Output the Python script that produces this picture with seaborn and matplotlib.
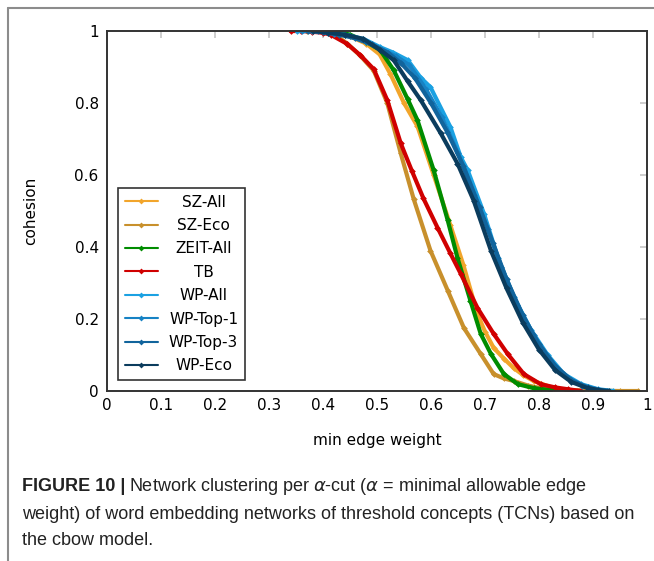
import pandas as pd
import seaborn as sns
import matplotlib.pyplot as plt
from matplotlib.lines import Line2D

# Werte (min edge weight -> cohesion)
sz_all_x = [0.40, 0.423, 0.45, 0.48, 0.505, 0.525, 0.55, 0.575, 0.605, 0.636, 0.66, 0.686, 0.70, 0.716, 0.735, 0.753, 0.77, 0.79, 0.827, 0.87]
sz_all_y = [1.0, 1.0, 0.985, 0.965, 0.935, 0.88, 0.80, 0.735, 0.60, 0.46, 0.35, 0.214, 0.165, 0.12, 0.09, 0.064, 0.045, 0.028, 0.008, 0.0]

sz_eco_x = [0.37, 0.40, 0.42, 0.445, 0.47, 0.494, 0.519, 0.544, 0.568, 0.599, 0.631, 0.661, 0.692, 0.716, 0.735, 0.753, 0.78, 0.803, 0.85, 0.90, 0.95, 0.983]
sz_eco_y = [1.0, 0.998, 0.992, 0.965, 0.93, 0.89, 0.80, 0.66, 0.533, 0.39, 0.279, 0.175, 0.103, 0.047, 0.035, 0.028, 0.015, 0.008, 0.003, 0.001, 0.0, 0.0]

zeit_all_x = [0.42, 0.45, 0.48, 0.506, 0.531, 0.557, 0.575, 0.605, 0.631, 0.649, 0.673, 0.692, 0.711, 0.735, 0.761, 0.79, 0.82, 0.86]
zeit_all_y = [1.0, 0.99, 0.97, 0.947, 0.891, 0.81, 0.752, 0.613, 0.474, 0.37, 0.251, 0.159, 0.103, 0.047, 0.019, 0.008, 0.003, 0.0]

tb_x = [0.34, 0.36, 0.38, 0.40, 0.414, 0.445, 0.469, 0.494, 0.519, 0.544, 0.565, 0.586, 0.612, 0.636, 0.655, 0.686, 0.716, 0.742, 0.772, 0.803, 0.83, 0.853, 0.878]
tb_y = [1.0, 1.0, 0.998, 0.995, 0.99, 0.964, 0.933, 0.894, 0.808, 0.688, 0.61, 0.535, 0.454, 0.382, 0.326, 0.231, 0.159, 0.103, 0.047, 0.019, 0.01, 0.005, 0.0]

wp_all_x = [0.352, 0.38, 0.41, 0.44, 0.475, 0.506, 0.53, 0.557, 0.581, 0.599, 0.636, 0.655, 0.668, 0.698, 0.724, 0.753, 0.785, 0.816, 0.846, 0.878, 0.909, 0.937]
wp_all_y = [1.0, 1.0, 0.995, 0.99, 0.978, 0.955, 0.94, 0.919, 0.87, 0.844, 0.733, 0.65, 0.613, 0.493, 0.37, 0.262, 0.17, 0.10, 0.047, 0.019, 0.005, 0.0]

wp_top1_x = [0.362, 0.39, 0.42, 0.45, 0.48, 0.51, 0.535, 0.56, 0.59, 0.62, 0.65, 0.68, 0.705, 0.73, 0.76, 0.79, 0.82, 0.85, 0.88, 0.91, 0.925]
wp_top1_y = [1.0, 1.0, 0.993, 0.985, 0.97, 0.948, 0.93, 0.905, 0.84, 0.76, 0.66, 0.545, 0.45, 0.345, 0.24, 0.155, 0.085, 0.04, 0.015, 0.004, 0.0]

wp_top3_x = [0.373, 0.40, 0.43, 0.46, 0.49, 0.52, 0.545, 0.57, 0.60, 0.63, 0.66, 0.69, 0.715, 0.74, 0.77, 0.80, 0.83, 0.86, 0.89, 0.915]
wp_top3_y = [1.0, 0.998, 0.99, 0.98, 0.963, 0.94, 0.91, 0.87, 0.80, 0.72, 0.625, 0.51, 0.41, 0.31, 0.21, 0.13, 0.07, 0.03, 0.01, 0.0]

wp_eco_x = [0.382, 0.41, 0.44, 0.475, 0.506, 0.531, 0.557, 0.581, 0.618, 0.649, 0.679, 0.711, 0.74, 0.77, 0.80, 0.83, 0.86, 0.89, 0.91, 0.93]
wp_eco_y = [1.0, 0.995, 0.99, 0.978, 0.947, 0.919, 0.86, 0.808, 0.716, 0.632, 0.529, 0.39, 0.285, 0.19, 0.115, 0.058, 0.025, 0.008, 0.003, 0.0]

series_names = ['SZ-All', 'SZ-Eco', 'ZEIT-All', 'TB', 'WP-All', 'WP-Top-1', 'WP-Top-3', 'WP-Eco']
series_x = [sz_all_x, sz_eco_x, zeit_all_x, tb_x, wp_all_x, wp_top1_x, wp_top3_x, wp_eco_x]
series_y = [sz_all_y, sz_eco_y, zeit_all_y, tb_y, wp_all_y, wp_top1_y, wp_top3_y, wp_eco_y]
colors = ['#F2A52B', '#C8902C', '#008C00', '#D00000', '#1BA1E2', '#1682C4', '#11649C', '#0B3C5D']

xticks = [0, 0.1, 0.2, 0.3, 0.4, 0.5, 0.6, 0.7, 0.8, 0.9, 1]
xtick_labels = ['0', '0.1', '0.2', '0.3', '0.4', '0.5', '0.6', '0.7', '0.8', '0.9', '1']
yticks = [0, 0.2, 0.4, 0.6, 0.8, 1]
ytick_labels = ['0', '0.2', '0.4', '0.6', '0.8', '1']

# Long-Format fuer seaborn
rows = []
for name, xs, ys in zip(series_names, series_x, series_y):
    for x, y in zip(xs, ys):
        rows.append({'weight': x, 'cohesion': y, 'corpus': name})
df = pd.DataFrame(rows)

sns.set_theme(style='white')
plt.rcParams['font.family'] = ['DejaVu Sans']

fig = plt.figure(figsize=(6.54, 5.61), dpi=100)
ax = fig.add_axes([0.1636, 0.303, 0.8257, 0.6417])

sns.lineplot(data=df, x='weight', y='cohesion', hue='corpus', hue_order=series_names,
             palette=colors, estimator=None, sort=False, linewidth=3.0,
             marker='D', markersize=3.4, markeredgewidth=0, legend=False, ax=ax)

ax.set_xlim(0, 1)
ax.set_ylim(0, 1)
ax.set_xticks(xticks)
ax.set_xticklabels(xtick_labels)
ax.set_yticks(yticks)
ax.set_yticklabels(ytick_labels)
ax.tick_params(direction='in', length=5, color='#c8c8c8', top=True, right=True,
               labelsize=11, labelcolor='black')
ax.tick_params(axis='x', pad=5)
ax.tick_params(axis='y', pad=6)

for sp in ax.spines.values():
    sp.set_color('#333333')
    sp.set_linewidth(1.4)

ax.set_xlabel('min edge weight', fontsize=11, color='black')
ax.set_ylabel('cohesion', fontsize=11, color='black')
ax.xaxis.set_label_coords(0.5, -0.117)
ax.yaxis.set_label_coords(-0.128, 0.5)

# Legende (Beschriftungen zentriert wie im Original)
handles = [Line2D([0], [0], color=c, lw=1.5, marker='D', markersize=3, markeredgewidth=0) for c in colors]
leg = ax.legend(handles, series_names, loc='lower left', bbox_to_anchor=(0.02, 0.03),
                fontsize=11, frameon=True, fancybox=False, handlelength=2.2,
                labelspacing=0.55, borderpad=0.45, handletextpad=0.7, borderaxespad=0)
leg.get_frame().set_edgecolor('black')
leg.get_frame().set_linewidth(1.2)

fig.canvas.draw()
W, H = fig.canvas.get_width_height()
boxes = [t.get_window_extent() for t in leg.get_texts()]
xc = (min(b.x0 for b in boxes) + max(b.x1 for b in boxes)) / 2
for t, b in zip(leg.get_texts(), boxes):
    fig.text(xc / W, b.y0 / H, t.get_text(), fontsize=11, ha='center', va='bottom', color='black')
    t.set_alpha(0)

# Grauer Rahmen der Abbildung
fig.add_artist(Line2D([8 / 654, 8 / 654], [0, 1 - 8 / 561], color='#8c8c8c', lw=1.5))
fig.add_artist(Line2D([8 / 654, 1], [1 - 8 / 561, 1 - 8 / 561], color='#8c8c8c', lw=1.5))

# Bildunterschrift
cap_font = ['Liberation Sans', 'DejaVu Sans']
cap_size = 13
x0 = 22 / 654
t1 = fig.text(x0, 1 - 491 / 561, 'FIGURE 10 |', fontsize=cap_size, fontweight='bold',
              family=cap_font, va='baseline', color='#222222')
fig.canvas.draw()
bb = t1.get_window_extent()
fig.text((bb.x1 + 4) / 654, 1 - 491 / 561,
         r'Network clustering per $\alpha$-cut ($\alpha$ = minimal allowable edge',
         fontsize=cap_size, family=cap_font, va='baseline', color='#222222')
fig.text(x0, 1 - 519 / 561,
         'weight) of word embedding networks of threshold concepts (TCNs) based on',
         fontsize=cap_size, family=cap_font, va='baseline', color='#222222')
fig.text(x0, 1 - 545 / 561, 'the cbow model.',
         fontsize=cap_size, family=cap_font, va='baseline', color='#222222')

plt.savefig('out.png', dpi=100)
